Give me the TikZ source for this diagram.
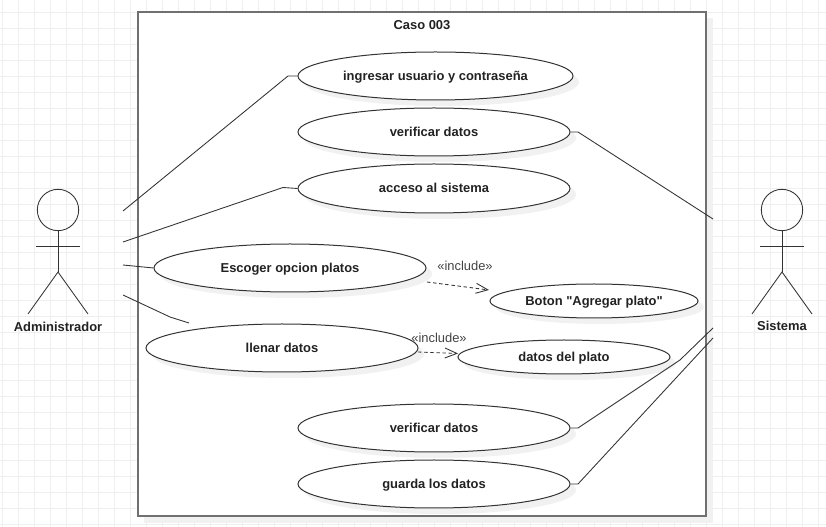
\documentclass[tikz,border=0pt]{standalone}
\usepackage{fontspec}
\setmainfont{Liberation Sans}[Ligatures=TeXOff]
\usetikzlibrary{arrows.meta,shapes.geometric}
\definecolor{gridc}{HTML}{EFEFEF}
\definecolor{shadowc}{HTML}{F1F1F1}
\definecolor{linec}{HTML}{333333}
\definecolor{framec}{HTML}{707070}
\definecolor{textc}{HTML}{222222}
\tikzset{
  x=0.75pt,y=-0.75pt,
  usecase/.style={ellipse,draw=linec,line width=0.75pt,fill=white,inner sep=0pt,text=textc,font=\fontsize{9.7pt}{11pt}\selectfont\bfseries},
  link/.style={draw=linec,line width=0.65pt},
  dep/.style={draw=linec,line width=0.65pt,dash pattern=on 2.6pt off 2pt,-{Straight Barb[length=9pt,width=7.5pt,line width=0.65pt]}},
  actorline/.style={draw=linec,line width=0.65pt},
  label/.style={text=textc,inner sep=0pt,font=\fontsize{9.7pt}{11pt}\selectfont\bfseries},
  stereo/.style={text=textc!85,inner sep=0pt,font=\fontsize{9.7pt}{11pt}\selectfont},
}
\newcommand{\uc}[6]{%
  \fill[shadowc] (#2+6,#3+6) ellipse [x radius=#4*0.75pt/2,y radius=#5*0.75pt/2];
  \node[usecase,minimum width=#4*0.75pt,minimum height=#5*0.75pt] (#1) at (#2,#3) {\rule[-1.8pt]{0pt}{10pt}#6};
}
\begin{document}
\begin{tikzpicture}
\useasboundingbox (0,0) rectangle (826,527);
\fill[white] (0,0) rectangle (826,527);
% grid
\foreach \i in {0,...,51} \draw[gridc,line width=0.6pt] ({2.7+16*\i},0) -- ({2.7+16*\i},527);
\foreach \i in {0,...,32} \draw[gridc,line width=0.6pt] (0,{12+16*\i}) -- (826,{12+16*\i});
% frame
\fill[shadowc] (144,18) rectangle (713,523);
\node[draw=framec,line width=1pt,fill=white,minimum width=426pt,minimum height=378pt,inner sep=0pt] (frame) at (422,264) {};
\node[label] (title) at (422,25) {Caso 003};
% use cases
\uc{ingresar}{435.5}{76}{275}{48}{ingresar usuario y contraseña}
\uc{verif}{434}{132}{272}{48}{verificar datos}
\uc{acceso}{434}{188.5}{272}{49}{acceso al sistema}
\uc{escoger}{290}{268}{272}{48}{Escoger opcion platos}
\uc{boton}{594}{301}{208}{34}{Boton "Agregar plato"}
\uc{llenar}{282}{348}{272}{48}{llenar datos}
\uc{datos}{564}{357}{212}{34}{datos del plato}
\uc{verifb}{434}{428}{272}{48}{verificar datos}
\uc{guarda}{434}{484}{272}{48}{guarda los datos}
% actors
\node[circle,draw=linec,line width=0.65pt,minimum size=31pt,inner sep=0pt] (adminhead) at (58,210) {};
\coordinate (adminhip) at (58,272);
\coordinate (adminarml) at (36,246);
\coordinate (adminarmr) at (80,246);
\coordinate (adminfootl) at (28,314);
\coordinate (adminfootr) at (88,314);
\draw[actorline] (adminhead.south) -- (adminhip);
\draw[actorline] (adminarml) -- (adminarmr);
\draw[actorline] (adminfootl) -- (adminhip) -- (adminfootr);
\node[label] (admin) at (58,327) {Administrador};
\node[circle,draw=linec,line width=0.65pt,minimum size=31pt,inner sep=0pt] (sishead) at (782,210) {};
\coordinate (sisship) at (782,272);
\coordinate (sisarml) at (760,246);
\coordinate (sisarmr) at (804,246);
\coordinate (sisfootl) at (752,314);
\coordinate (sisfootr) at (812,314);
\draw[actorline] (sishead.south) -- (sisship);
\draw[actorline] (sisarml) -- (sisarmr);
\draw[actorline] (sisfootl) -- (sisship) -- (sisfootr);
\node[label] (sistema) at (782,326) {Sistema};
% free ends
\coordinate (a1) at (123,211);
\coordinate (a2) at (123,242);
\coordinate (a3) at (123,265);
\coordinate (a4) at (123,295);
\coordinate (s1) at (713,219);
\coordinate (s2) at (713,328);
\coordinate (s3) at (713,338);
\coordinate (llenarend) at (189,323);
% connectors
\draw[link] (a1) -- (288,76) -- (ingresar.west);
\draw[link] (a2) -- (283,187.5) -- (acceso.west);
\draw[link] (a3) -- (escoger.west);
\draw[link] (a4) -- (170,317) -- (llenarend);
\draw[link] (verif.east) -- (578,132) -- (s1);
\draw[link] (verifb.east) -- (578,428) -- (680,360) -- (s2);
\draw[link] (guarda.east) -- (578,484) -- (s3);
\coordinate (d1) at (427,282);
\coordinate (d2) at (489,290);
\coordinate (d3) at (418,352);
\coordinate (d4) at (458,353.5);
\draw[dep] (d1) -- (d2);
\draw[dep] (d3) -- (d4);
\node[stereo] (inc1) at (465,266) {«include»};
\node[stereo] (inc2) at (439,338) {«include»};
\end{tikzpicture}
\end{document}
